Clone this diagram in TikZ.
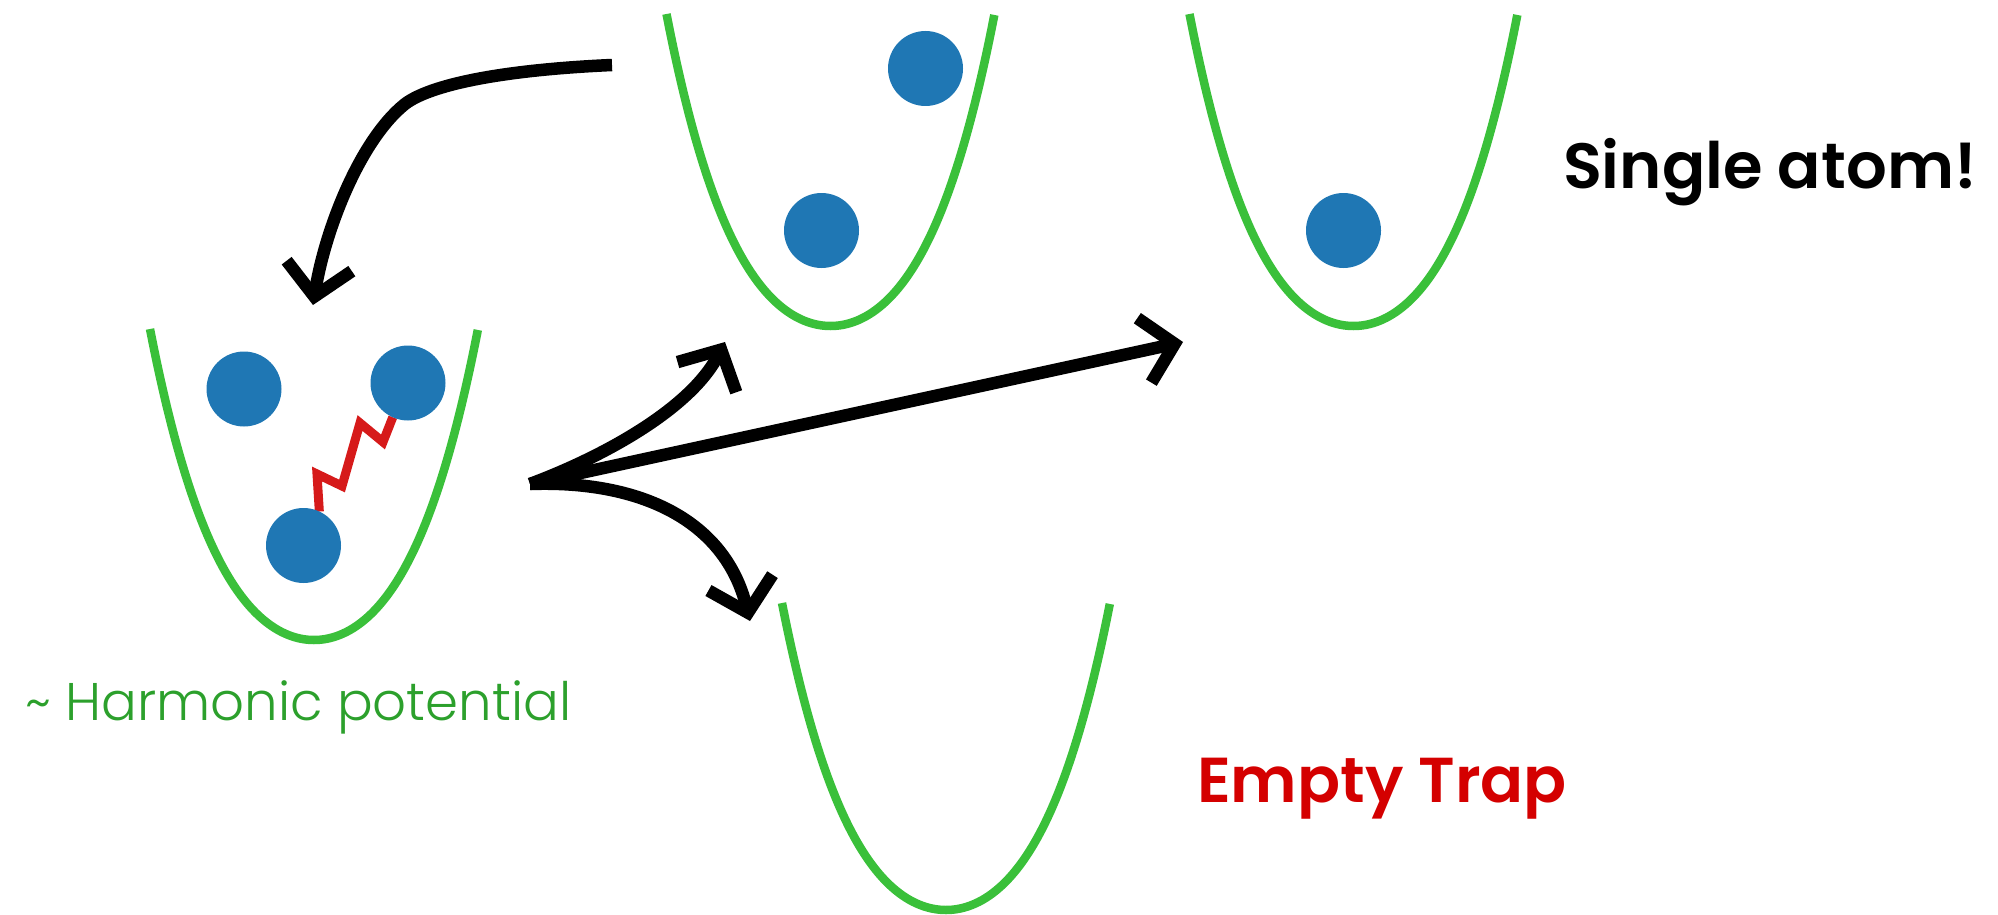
\documentclass[tikz,border=0pt]{standalone}
\usepackage{fontspec}
\setmainfont{Poppins}
\newfontfamily\poplight{Poppins Light}
\newfontfamily\popsemi{Poppins SemiBold}
\usetikzlibrary{arrows.meta,backgrounds}
\definecolor{trapgreen}{RGB}{58,192,58}
\definecolor{labelgreen}{RGB}{44,160,44}
\definecolor{atomblue}{RGB}{31,119,180}
\definecolor{zigred}{RGB}{214,26,26}
\definecolor{emptyred}{RGB}{212,0,0}
\begin{document}
\begin{tikzpicture}[x=1pt,y=-1pt,
  trap/.style={draw=trapgreen, line width=8.5pt},
  atom/.style={circle, fill=atomblue, minimum size=75pt, inner sep=0pt, outer sep=0pt},
  move/.style={draw=black, line width=12.5pt, -{Straight Barb[length=31pt,width=66pt]}},
  zig/.style={draw=zigred, line width=9pt, line join=miter},
  lbl/.style={anchor=base west, inner sep=0pt, outer sep=0pt}
]
\useasboundingbox (0,0) rectangle (1998,915);

% traps
\draw[trap] plot[domain=-1:1,samples=101,smooth] ({314+164*\x},{640-311*(0.65*\x*\x+0.35*\x*\x*\x*\x)});
\draw[trap] plot[domain=-1:1,samples=101,smooth] ({830.5+164*\x},{326-312*(0.65*\x*\x+0.35*\x*\x*\x*\x)});
\draw[trap] plot[domain=-1:1,samples=101,smooth] ({1353.5+164*\x},{326-312*(0.65*\x*\x+0.35*\x*\x*\x*\x)});
\draw[trap] plot[domain=-1:1,samples=101,smooth] ({946+164*\x},{910-307*(0.65*\x*\x+0.35*\x*\x*\x*\x)});

% atoms
\node[atom] (a11) at (244,389) {};
\node[atom] (a12) at (408,383) {};
\node[atom] (a13) at (303.5,545.5) {};
\node[atom] (a21) at (925.5,68.5) {};
\node[atom] (a22) at (821.5,230.5) {};
\node[atom] (a31) at (1343.5,230.5) {};

% interaction
\begin{pgfonlayer}{background}
\draw[zig] (a13.65) -- (317,474) -- (342,486) -- (360,423) -- (383,442) -- (a12.246);
\end{pgfonlayer}

% arrows
\coordinate (S1) at (612,65);
\coordinate (K1) at (405,104);
\coordinate (T1) at (313,305);
\coordinate (O) at (530,484);
\coordinate (T2) at (725,342);
\coordinate (T3) at (1183,342);
\coordinate (T4) at (750,621);

\draw[move] (S1) .. controls (500,70) and (430,85) .. (K1) .. controls (360,140) and (325,230) .. (T1);
\draw[move] (O) .. controls (600,458) and (690,410) .. (T2);
\draw[move] (O) -- (T3);
\draw[move] (O) .. controls (640,480) and (725,520) .. (T4);

% labels
\node[lbl, font=\popsemi\fontsize{64}{70}\selectfont] (single) at (1563,189) {Single atom!};
\node[lbl, font=\popsemi\fontsize{63.5}{70}\selectfont, text=emptyred] (empty) at (1197,802) {Empty Trap};
\node[lbl, font=\poplight\fontsize{53}{58}\selectfont, text=labelgreen] (harm) at (25,720) {\char"007E{} Harmonic potential};
\end{tikzpicture}
\end{document}
